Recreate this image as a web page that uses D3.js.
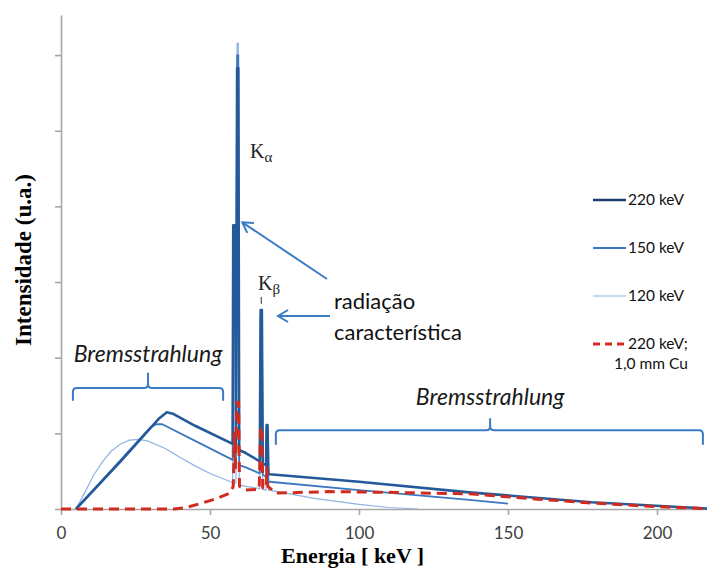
<html>
<head>
<meta charset="utf-8">
<title>Espectro de raios X</title>
<style>
  body { margin: 0; background: #fff; }
</style>
</head>
<body>
<script src="https://cdn.jsdelivr.net/npm/d3@7/dist/d3.min.js"></script>
<script>

// ticks
var xTicks = [0, 50, 100, 150, 200];
var yTicks = [0, 1, 2, 3, 4, 5, 6];

// espectros: [energia keV, intensidade u.a.]
var s220 = [[5,0],[20,0.63],[33,1.2],[35.5,1.28],[37.5,1.26],[45,1.1],[57.6,0.86],
  [57.8,3.75],[58.5,3.75],[58.7,0.84],[59.1,5.83],[59.5,5.83],[59.8,0.78],
  [62,0.74],[66.7,0.63],[67.0,2.63],[67.4,2.63],[67.7,0.6],[68.8,0.58],
  [69.0,1.11],[69.3,1.11],[69.6,0.47],[70,0.46],[100,0.36],[137,0.22],[178,0.09],[220,0]];

var s150 = [[5,0],[30,1.08],[32,1.12],[34,1.12],[45,0.9],[57.6,0.65],
  [57.8,3.75],[58.5,3.75],[58.7,0.63],[59.1,6.0],[59.5,6.0],[59.8,0.58],
  [62,0.55],[66.7,0.47],[67.0,2.55],[67.4,2.55],[67.7,0.45],[68.8,0.43],
  [69.0,1.05],[69.3,1.05],[69.6,0.37],[70,0.36],[100,0.25],[137,0.12],[150,0.07]];

var s120 = [[5,0],[8,0.22],[11,0.45],[14,0.63],[17,0.77],[20,0.86],[23,0.91],[26,0.92],
  [29,0.9],[32,0.85],[35,0.8],[40,0.68],[45,0.57],[50,0.47],[55,0.39],[57.6,0.35],
  [57.8,3.6],[58.5,3.6],[58.7,0.34],[59.1,6.16],[59.5,6.16],[59.8,0.32],
  [62,0.3],[66.7,0.27],[67.0,2.4],[67.4,2.4],[67.7,0.26],[68.8,0.25],
  [69.0,0.95],[69.3,0.95],[69.6,0.25],[70,0.25],[85,0.14],[100,0.06],[110,0.02],[120,0]];

var s220Cu = [[0,0],[38,0],[42,0.02],[46.6,0.07],[50,0.11],[53,0.15],[56.7,0.21],[57.8,0.3],
  [58.2,1.0],[58.5,0.5],[59.0,1.41],[59.6,1.41],[59.9,0.3],[62,0.25],[66.5,0.26],
  [67.0,1.08],[67.4,1.08],[67.7,0.28],[68.8,0.27],[69.1,0.55],[69.4,0.3],[72,0.21],
  [90,0.23],[110,0.22],[137,0.2],[160,0.13],[178,0.08],[200,0.03],[220,0]];

var seriesNames = ["220 keV", "150 keV", "120 keV", "220 keV;"];

var width = 707;
var height = 570;

var svg = d3.select("body").append("svg")
    .attr("width", width)
    .attr("height", height)
    .style("font-family", "Lato, 'Open Sans', sans-serif");

var x = d3.scaleLinear().domain([0, 220]).range([61, 61 + 220 * 2.98]);
var y = d3.scaleLinear().domain([0, 6.53]).range([509, 15]);

// eixos
var xAxis = svg.append("g")
    .attr("transform", "translate(0," + y(0) + ")")
    .call(d3.axisBottom(x).tickValues(xTicks).tickSize(6).tickSizeOuter(0).tickPadding(12));
var yAxis = svg.append("g")
    .attr("transform", "translate(" + x(0) + ",0)")
    .call(d3.axisLeft(y).tickValues(yTicks).tickSize(6).tickSizeOuter(0).tickFormat(""));

svg.selectAll(".domain, .tick line")
    .attr("stroke", "#a6a6a6")
    .attr("stroke-width", 1.6);
xAxis.selectAll("text")
    .attr("font-size", "17px")
    .attr("fill", "#404040")
    .style("font-family", "Lato, sans-serif");

// titulos dos eixos
svg.append("text")
    .attr("x", 281).attr("y", 563)
    .attr("font-family", "'Liberation Serif', 'DejaVu Serif', serif")
    .attr("font-weight", "bold")
    .attr("font-size", "22px")
    .text("Energia [ keV ]");

svg.append("text")
    .attr("transform", "translate(31,260) rotate(-90)")
    .attr("text-anchor", "middle")
    .attr("font-family", "'Liberation Serif', 'DejaVu Serif', serif")
    .attr("font-weight", "bold")
    .attr("font-size", "23px")
    .text("Intensidade (u.a.)");

// linhas
var line = d3.line()
    .x(function(d){ return x(d[0]); })
    .y(function(d){ return y(d[1]); });

var styles = [
  { data: s120,   color: "#8fb4e3", w: 1.2, dash: null },
  { data: s150,   color: "#3c78c0", w: 1.8, dash: null },
  { data: s220,   color: "#245a9a", w: 2.6, dash: null },
  { data: s220Cu, color: "#d12a1e", w: 3,   dash: "10,6" }
];

svg.selectAll("path.serie")
    .data(styles)
    .enter().append("path")
    .attr("class", "serie")
    .attr("fill", "none")
    .attr("stroke", function(d){ return d.color; })
    .attr("stroke-width", function(d){ return d.w; })
    .attr("stroke-dasharray", function(d){ return d.dash; })
    .attr("stroke-linejoin", "round")
    .attr("d", function(d){ return line(d.data); });

// anotacoes
var blue = "#3a7cc4";

svg.append("defs").append("marker")
    .attr("id", "seta")
    .attr("markerUnits", "userSpaceOnUse")
    .attr("viewBox", "-12 -8 14 16")
    .attr("refX", 0).attr("refY", 0)
    .attr("markerWidth", 14).attr("markerHeight", 16)
    .attr("orient", "auto")
  .append("path")
    .attr("d", "M-10,-6 L0,0 L-10,6")
    .attr("fill", "none")
    .attr("stroke", blue)
    .attr("stroke-width", 2);

svg.append("line")
    .attr("x1", 327).attr("y1", 279)
    .attr("x2", x(59.5) + 4).attr("y2", y(3.75) - 3)
    .attr("stroke", blue).attr("stroke-width", 2)
    .attr("marker-end", "url(#seta)");

svg.append("line")
    .attr("x1", 330).attr("y1", 316)
    .attr("x2", 278).attr("y2", 316)
    .attr("stroke", blue).attr("stroke-width", 2)
    .attr("marker-end", "url(#seta)");

var ka = svg.append("text")
    .attr("x", 250).attr("y", 158)
    .attr("font-family", "'Liberation Serif', serif")
    .attr("font-size", "20px")
    .attr("fill", "#222");
ka.append("tspan").text("K");
ka.append("tspan").attr("font-size", "15px").attr("dy", 4).text("α");

var kb = svg.append("text")
    .attr("x", 258).attr("y", 290)
    .attr("font-family", "'Liberation Serif', serif")
    .attr("font-size", "20px")
    .attr("fill", "#222");
kb.append("tspan").text("K");
kb.append("tspan").attr("font-size", "15px").attr("dy", 4).text("β");

svg.append("line")
    .attr("x1", x(67.2)).attr("x2", x(67.2))
    .attr("y1", 297).attr("y2", 304)
    .attr("stroke", "#333").attr("stroke-width", 1);

svg.append("text")
    .attr("x", 334).attr("y", 309)
    .attr("font-size", "22px").attr("fill", "#111")
    .text("radiação");
svg.append("text")
    .attr("x", 334).attr("y", 340)
    .attr("font-size", "22px").attr("fill", "#111")
    .text("característica");

// chaves Bremsstrahlung
function brace(e1, e2, ec, vLine, vEnd, vTop){
  var x1 = x(e1), x2 = x(e2), xc = x(ec);
  var yl = y(vLine), ye = y(vEnd), yt = y(vTop);
  var r = 4;
  return "M" + x1 + "," + ye +
    " L" + x1 + "," + (yl + r) + " Q" + x1 + "," + yl + " " + (x1 + r) + "," + yl +
    " L" + (xc - r) + "," + yl + " Q" + xc + "," + yl + " " + xc + "," + (yl - r) +
    " L" + xc + "," + yt +
    " M" + xc + "," + (yl - r) + " Q" + xc + "," + yl + " " + (xc + r) + "," + yl +
    " L" + (x2 - r) + "," + yl + " Q" + x2 + "," + yl + " " + x2 + "," + (yl + r) +
    " L" + x2 + "," + ye;
}

svg.append("path")
    .attr("d", brace(4, 54.4, 29.2, 1.6, 1.43, 1.8))
    .attr("fill", "none").attr("stroke", blue).attr("stroke-width", 2);
svg.append("path")
    .attr("d", brace(72.1, 215.4, 144, 1.04, 0.85, 1.2))
    .attr("fill", "none").attr("stroke", blue).attr("stroke-width", 2);

svg.append("text")
    .attr("x", x(29.2)).attr("y", 362)
    .attr("text-anchor", "middle")
    .attr("font-style", "italic")
    .attr("font-size", "23px").attr("fill", "#1a1a1a")
    .text("Bremsstrahlung");
svg.append("text")
    .attr("x", x(144)).attr("y", 405)
    .attr("text-anchor", "middle")
    .attr("font-style", "italic")
    .attr("font-size", "23px").attr("fill", "#1a1a1a")
    .text("Bremsstrahlung");

// legenda
var legY = [200, 248, 296, 344];
var legend = svg.selectAll("g.leg")
    .data(styles.slice().reverse().map(function(d, i){
        return { color: [ "#1f3f73", "#3c78c0", "#8fb4e3", "#d12a1e" ][i], w: [2.6, 1.8, 1.2, 3][i],
                 dash: i == 3 ? "7,5" : null, name: seriesNames[i], yy: legY[i] };
    }))
    .enter().append("g")
    .attr("class", "leg")
    .attr("transform", function(d){ return "translate(593," + d.yy + ")"; });

legend.append("line")
    .attr("x1", 0).attr("x2", 33)
    .attr("stroke", function(d){ return d.color; })
    .attr("stroke-width", function(d){ return d.w; })
    .attr("stroke-dasharray", function(d){ return d.dash; });

legend.append("text")
    .attr("x", 35).attr("dy", "0.35em")
    .attr("font-size", "15.5px").attr("fill", "#111")
    .text(function(d){ return d.name; });

svg.append("text")
    .attr("x", 614).attr("y", 364).attr("dy", "0.35em")
    .attr("font-size", "15.5px").attr("fill", "#111")
    .text("1,0 mm Cu");

</script>
</body>
</html>
